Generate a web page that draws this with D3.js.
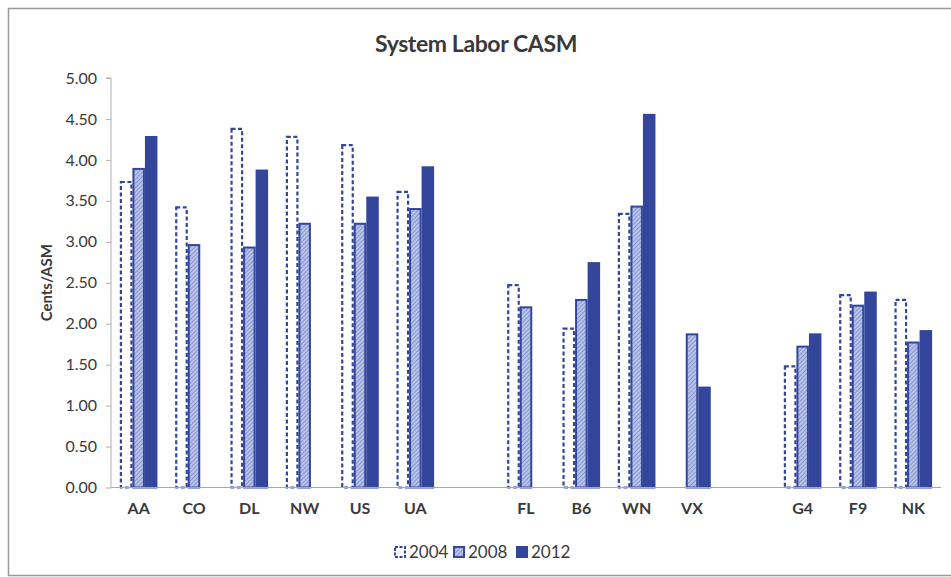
<!DOCTYPE html>
<html>
<head>
<meta charset="utf-8">
<script src="https://cdn.jsdelivr.net/npm/d3@7"></script>
<style>
  body { margin: 0; background: #fff; }
  text { font-family: Lato, "Open Sans", sans-serif; fill: #3a3a3a; }
</style>
</head>
<body>
<div id="chart"></div>
<script>
const width = 951, height = 577;
const margin = {top: 78, bottom: 89, left: 111, right: 10};

// airlines, with two empty slots between the groups
const carriers = ["AA", "CO", "DL", "NW", "US", "UA", "gap1", "FL", "B6", "WN", "VX", "gap2", "G4", "F9", "NK"];
const years = ["2004", "2008", "2012"];
const v2004 = [3.73, 3.42, 4.38, 4.28, 4.18, 3.61, null, 2.47, 1.94, 3.34, null, null, 1.48, 2.35, 2.29];
const v2008 = [3.89, 2.96, 2.93, 3.22, 3.22, 3.40, null, 2.20, 2.29, 3.43, 1.87, null, 1.72, 2.22, 1.77];
const v2012 = [4.28, null, 3.87, null, 3.54, 3.91, null, null, 2.74, 4.55, 1.22, null, 1.87, 2.38, 1.91];
const yTicks = [0, 0.5, 1, 1.5, 2, 2.5, 3, 3.5, 4, 4.5, 5];

const seriesValues = {"2004": v2004, "2008": v2008, "2012": v2012};
const blue = "#34469b";

const svg = d3.select("#chart").append("svg")
  .attr("width", width)
  .attr("height", height);

// hatch for 2008
const defs = svg.append("defs");
const pat = defs.append("pattern")
  .attr("id", "hatch")
  .attr("patternUnits", "userSpaceOnUse")
  .attr("width", 3).attr("height", 3)
  .attr("patternTransform", "rotate(45)");
pat.append("rect").attr("width", 3).attr("height", 3).attr("fill", "#b7c3e8");
pat.append("line").attr("x1", 0).attr("y1", 0).attr("x2", 0).attr("y2", 3)
  .attr("stroke", "#5a6cb5").attr("stroke-width", 1);

// chart border
svg.append("rect")
  .attr("x", 8.5).attr("y", 8.5)
  .attr("width", 960).attr("height", 567)
  .attr("fill", "none")
  .attr("stroke", "#9a9a9a")
  .attr("stroke-width", 1.5);

svg.append("text")
  .attr("x", 476).attr("y", 52)
  .attr("text-anchor", "middle")
  .style("font-size", "23px")
  .style("font-weight", "bold")
  .style("letter-spacing", "-0.4px")
  .text("System Labor CASM");

const x0 = d3.scaleBand()
  .domain(carriers)
  .range([margin.left, 941]);

const x1 = d3.scaleBand()
  .domain(years)
  .range([0, x0.bandwidth()])
  .paddingOuter(0.71);

const y = d3.scaleLinear()
  .domain([0, 5])
  .range([height - margin.bottom - 0.5, margin.top]);

// y axis
const yAxis = svg.append("g")
  .attr("transform", `translate(${margin.left},0)`)
  .call(d3.axisLeft(y).tickValues(yTicks).tickFormat(d3.format(".2f")).tickSize(5).tickPadding(9));
yAxis.select(".domain").attr("stroke", "#b0b0b0").attr("d", `M-5,${y(5)}H0V${y(0)}`);
yAxis.selectAll(".tick line").attr("stroke", "#b0b0b0");
yAxis.selectAll(".tick text").style("font-size", "16px").attr("fill", "#3a3a3a");

svg.append("text")
  .attr("transform", `translate(52, ${y(2.5)}) rotate(-90)`)
  .attr("text-anchor", "middle")
  .style("font-size", "15px")
  .style("font-weight", "bold")
  .text("Cents/ASM");

// bars
const rows = [];
carriers.forEach((c, i) => {
  years.forEach(yr => {
    const v = seriesValues[yr][i];
    if (v !== null) rows.push({carrier: c, year: yr, value: v});
  });
});

svg.append("g").selectAll("rect")
  .data(rows)
  .enter().append("rect")
  .attr("x", d => x0(d.carrier) + x1(d.year) + 1)
  .attr("y", d => y(d.value))
  .attr("width", x1.bandwidth() - 2)
  .attr("height", d => y(0) - y(d.value))
  .attr("fill", d => d.year === "2004" ? "#fff" : d.year === "2008" ? "url(#hatch)" : blue)
  .attr("stroke", blue)
  .attr("stroke-width", d => d.year === "2004" ? 2.2 : 2)
  .attr("stroke-dasharray", d => d.year === "2004" ? "4,2.5" : null);

// x axis
const xAxis = svg.append("g")
  .attr("transform", `translate(0,${y(0)})`)
  .call(d3.axisBottom(x0).tickSize(0).tickPadding(15).tickFormat(d => d.startsWith("gap") ? "" : d));
xAxis.select(".domain").attr("stroke", "#a8a8a8").attr("d", `M${margin.left},0H941`);
xAxis.selectAll(".tick text")
  .style("font-size", "16px")
  .style("font-weight", "bold")
  .attr("fill", "#3a3a3a");

// legend
const legendX = [394, 453, 516];
const legend = svg.append("g").selectAll("g")
  .data(years)
  .enter().append("g")
  .attr("transform", (d, i) => `translate(${legendX[i]}, 546)`);

legend.append("rect")
  .attr("x", 1).attr("y", 1)
  .attr("width", 10).attr("height", 10)
  .attr("fill", d => d === "2004" ? "#fff" : d === "2008" ? "url(#hatch)" : blue)
  .attr("stroke", blue)
  .attr("stroke-width", 2)
  .attr("stroke-dasharray", d => d === "2004" ? "3,1.5" : null);

legend.append("text")
  .attr("x", 15).attr("y", 12)
  .style("font-size", "17px")
  .text(d => d);
</script>
</body>
</html>
